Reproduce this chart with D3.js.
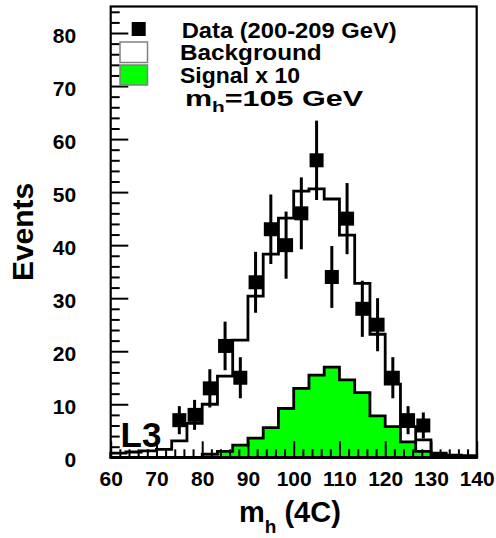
<!DOCTYPE html>
<html>
<head>
<meta charset="utf-8">
<script src="https://cdn.jsdelivr.net/npm/d3@7"></script>
<style>
  body { margin: 0; background: #fff; }
  svg { display: block; }
  text { font-family: "Liberation Sans", Arial, Helvetica, sans-serif; font-weight: bold; fill: #000; }
</style>
</head>
<body>
<svg id="chart" width="496" height="538"></svg>
<script>
// Reconstructed Higgs mass, 4C fit: 24 bins of 10/3 GeV from 60 to 140 GeV
const massRange = [60, 140];
const nBins = 24;

// Expected background per bin
const background = [0.8, 1.0, 1.2, 1.5, 3.1, 6.4, 10.0, 15.3, 22.1, 30.4, 38.3, 45.1,
                    50.2, 50.6, 48.7, 41.9, 32.8, 23.2, 13.8, 5.8, 3.3, 0.8, 0.4, 0.3];

// Signal expectation (m_h = 105 GeV) scaled by 10
const signalX10 = [0, 0, 0, 0, 0, 0, 0.6, 1.1, 2.3, 3.6, 5.6, 9.2,
                   13.0, 15.5, 17.0, 14.6, 12.2, 7.8, 5.8, 2.9, 1.1, 0.4, 0, 0];

// Observed events per bin (200-209 GeV data)
const dataCounts = [0, 0, 0, 0, 7, 8, 13, 21, 15, 33, 43, 40,
                    46, 56, 34, 45, 28, 25, 15, 7, 6, 0, 0, 0];

const xTickValues = [60, 70, 80, 90, 100, 110, 120, 130, 140];
const yTickValues = [0, 10, 20, 30, 40, 50, 60, 70, 80];
const yMax = 85;

const frame = { left: 110.7, right: 476.7, top: 6.5, bottom: 457.3 };

const svg = d3.select("#chart");

const x = d3.scaleLinear().domain(massRange).range([frame.left, frame.right]);
const y = d3.scaleLinear().domain([0, yMax]).range([frame.bottom, frame.top]);

const binWidth = (massRange[1] - massRange[0]) / nBins;
const edges = d3.range(nBins + 1).map(i => massRange[0] + i * binWidth);

// Step outline of a histogram, closed down to zero at both ends
function histPoints(values) {
  const pts = [[edges[0], 0]];
  values.forEach((v, i) => { pts.push([edges[i], v]); pts.push([edges[i + 1], v]); });
  pts.push([edges[nBins], 0]);
  return pts;
}
const line = d3.line().x(d => x(d[0])).y(d => y(d[1]));

const plot = svg.append("g");

// Background histogram (white fill, black outline)
plot.append("path")
  .attr("d", line(histPoints(background)) + "Z")
  .attr("fill", "#fff")
  .attr("stroke", "#000")
  .attr("stroke-width", 2.8)
  .attr("stroke-linejoin", "miter");

// Signal x 10 histogram (green fill)
plot.append("path")
  .attr("d", line(histPoints(signalX10)) + "Z")
  .attr("fill", "#00ff00")
  .attr("stroke", "#000")
  .attr("stroke-width", 2.8)
  .attr("stroke-linejoin", "miter");

// Data points with Poisson error bars
const points = dataCounts
  .map((n, i) => ({ n, c: (edges[i] + edges[i + 1]) / 2 }))
  .filter(d => d.n > 0);

const pts = plot.append("g");
pts.selectAll("line.err").data(points).join("line")
  .attr("class", "err")
  .attr("x1", d => x(d.c)).attr("x2", d => x(d.c))
  .attr("y1", d => y(d.n - Math.sqrt(d.n)))
  .attr("y2", d => y(d.n + Math.sqrt(d.n)))
  .attr("stroke", "#000").attr("stroke-width", 3);
const ms = 14;
pts.selectAll("rect.mk").data(points).join("rect")
  .attr("class", "mk")
  .attr("x", d => x(d.c) - ms / 2)
  .attr("y", d => y(d.n) - ms / 2)
  .attr("width", ms).attr("height", ms)
  .attr("fill", "#000");

// Axes: inward ticks, major every 10, minor every 2
const yMinor = d3.range(0, yMax + 0.001, 2).filter(v => v % 10 !== 0);
const xMinor = d3.range(massRange[0], massRange[1] + 0.001, 2).filter(v => v % 10 !== 0);

const yAxis = svg.append("g").attr("transform", `translate(${frame.left},0)`)
  .call(d3.axisLeft(y).tickValues(yTickValues).tickSize(-17.6).tickPadding(34.5).tickFormat(d3.format("d")));
yAxis.select(".domain").remove();
yAxis.selectAll("line").attr("stroke", "#000").attr("stroke-width", 2);
yAxis.selectAll("text").attr("font-size", 21).attr("dy", "0.45em")
  .style("font-family", '"Liberation Sans", Arial, sans-serif').style("font-weight", "bold");

const yAxisMinor = svg.append("g").attr("transform", `translate(${frame.left},0)`)
  .call(d3.axisLeft(y).tickValues(yMinor).tickSize(-9).tickFormat(""));
yAxisMinor.select(".domain").remove();
yAxisMinor.selectAll("line").attr("stroke", "#000").attr("stroke-width", 2);

const xAxis = svg.append("g").attr("transform", `translate(0,${frame.bottom})`)
  .call(d3.axisBottom(x).tickValues(xTickValues).tickSize(-16).tickPadding(0).tickFormat(d3.format("d")));
xAxis.select(".domain").remove();
xAxis.selectAll("line").attr("stroke", "#000").attr("stroke-width", 2);
xAxis.selectAll("text").attr("font-size", 21).attr("y", 21.4).attr("dy", "0.36em")
  .style("font-family", '"Liberation Sans", Arial, sans-serif').style("font-weight", "bold");

const xAxisMinor = svg.append("g").attr("transform", `translate(0,${frame.bottom})`)
  .call(d3.axisBottom(x).tickValues(xMinor).tickSize(-8).tickFormat(""));
xAxisMinor.select(".domain").remove();
xAxisMinor.selectAll("line").attr("stroke", "#000").attr("stroke-width", 2);

// Frame
svg.append("rect")
  .attr("x", frame.left).attr("y", frame.top)
  .attr("width", frame.right - frame.left).attr("height", frame.bottom - frame.top)
  .attr("fill", "none").attr("stroke", "#000").attr("stroke-width", 2.2);

// Axis titles
svg.append("text")
  .attr("transform", `translate(33,${(frame.top + frame.bottom) / 2}) rotate(-90)`)
  .attr("text-anchor", "middle")
  .attr("font-size", 30)
  .text("Events");

const xt = svg.append("text")
  .attr("x", 239).attr("y", 521.7)
  .attr("font-size", 29);
xt.append("tspan").text("m");
xt.append("tspan").attr("font-size", 19).attr("dy", 11).text("h");
xt.append("tspan").attr("dy", -11).text(" (4C)");

// Experiment tag
svg.append("text")
  .attr("x", 120.5).attr("y", 446.7)
  .attr("font-size", 35)
  .text("L3");

// Legend
const leg = svg.append("g");
leg.append("rect").attr("x", 131.7).attr("y", 22).attr("width", 14).attr("height", 14).attr("fill", "#000");
leg.append("rect").attr("x", 120).attr("y", 42).attr("width", 27.5).attr("height", 20.5)
  .attr("fill", "#fff").attr("stroke", "#808080").attr("stroke-width", 1.5);
leg.append("rect").attr("x", 120).attr("y", 65).attr("width", 27.5).attr("height", 20)
  .attr("fill", "#00ff00").attr("stroke", "#808080").attr("stroke-width", 1.5);

const legendLabels = [
  { text: "Data (200-209 GeV)", x: 181.7, y: 37.5, w: 215 },
  { text: "Background", x: 180, y: 60, w: 141.7 },
  { text: "Signal x 10", x: 180, y: 82.7, w: 120 }
];
legendLabels.forEach(d => {
  leg.append("text").attr("x", d.x).attr("y", d.y).attr("font-size", 22.5)
    .attr("textLength", d.w).attr("lengthAdjust", "spacingAndGlyphs")
    .text(d.text);
});
const mh = leg.append("text").attr("x", 185).attr("y", 105.5).attr("font-size", 22)
  .attr("textLength", 178).attr("lengthAdjust", "spacingAndGlyphs");
mh.append("tspan").text("m");
mh.append("tspan").attr("font-size", 15).attr("dy", 6).text("h");
mh.append("tspan").attr("dy", -6).text("=105 GeV");
</script>
</body>
</html>
